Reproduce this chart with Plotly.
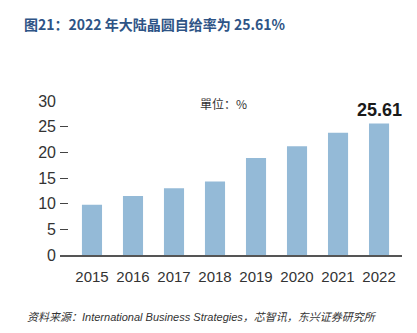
import plotly.graph_objects as go

years = ["2015", "2016", "2017", "2018", "2019", "2020", "2021", "2022"]
ratio = [9.8, 11.5, 13.0, 14.3, 18.9, 21.2, 23.8, 25.61]
y_ticks = [0, 5, 10, 15, 20, 25, 30]

title_text = "图21：2022 年大陆晶圆自给率为 25.61%"
unit_text = "單位：%"
last_label = "25.61"
source_text = "资料来源：International Business Strategies，芯智讯，东兴证券研究所"

narrow = "Liberation Sans Narrow, Arial Narrow, Liberation Sans, sans-serif"

fig = go.Figure()
fig.add_trace(go.Bar(
    x=years, y=ratio, width=0.49,
    marker=dict(color="#94BAD7", line=dict(width=0)),
    hoverinfo="skip",
))

# plot area in pixels: left 60, right 402, top 100.7, bottom 254.7
PW, PH, PL, PT = 342, 154, 60, 100.7

def px(xp):
    return (xp - PL) / PW

def py(yp):
    return 1 - (yp - PT) / PH

fig.add_annotation(x=len(years) - 1, y=ratio[-1], xref="x", yref="y",
                   text=f"<b>{last_label}</b>", showarrow=False,
                   yanchor="bottom", yshift=2,
                   font=dict(family=narrow, size=18, color="#1a1a1a"))
fig.add_annotation(x=px(223), y=py(103), xref="paper", yref="paper",
                   text=unit_text, showarrow=False, xanchor="center", yanchor="middle",
                   font=dict(family="Noto Sans CJK SC, sans-serif", size=12, color="#333333"))
fig.add_annotation(xref="paper", yref="paper", x=px(22), y=py(24),
                   text=f"<b>{title_text}</b>", showarrow=False,
                   xanchor="left", yanchor="middle",
                   font=dict(family="Noto Sans CJK SC, sans-serif", size=14, color="#2E5486"))
fig.add_annotation(xref="paper", yref="paper", x=px(25), y=py(317),
                   text=f"<i>{source_text}</i>", showarrow=False,
                   xanchor="left", yanchor="middle",
                   font=dict(family="Liberation Sans, Noto Sans CJK SC, sans-serif", size=11, color="#333333"))

fig.update_layout(
    width=417, height=333,
    margin=dict(l=60, r=15, t=100.7, b=78.3),
    paper_bgcolor="white", plot_bgcolor="white",
    showlegend=False,
    xaxis=dict(
        type="category", range=[-0.78, 7.56],
        showgrid=False, zeroline=False,
        showline=True, linecolor="#555555", linewidth=2,
        ticks="", tickfont=dict(family=narrow, size=15, color="#333333"),
        ticklabelstandoff=7,
    ),
    yaxis=dict(
        range=[0, 30], tickvals=y_ticks,
        showgrid=False, zeroline=False, showline=False,
        ticks="inside", ticklen=8, tickwidth=1.2, tickcolor="#444444",
        tickfont=dict(family=narrow, size=16, color="#333333"),
        ticklabelstandoff=3,
    ),
)

fig.write_html("out.html")
